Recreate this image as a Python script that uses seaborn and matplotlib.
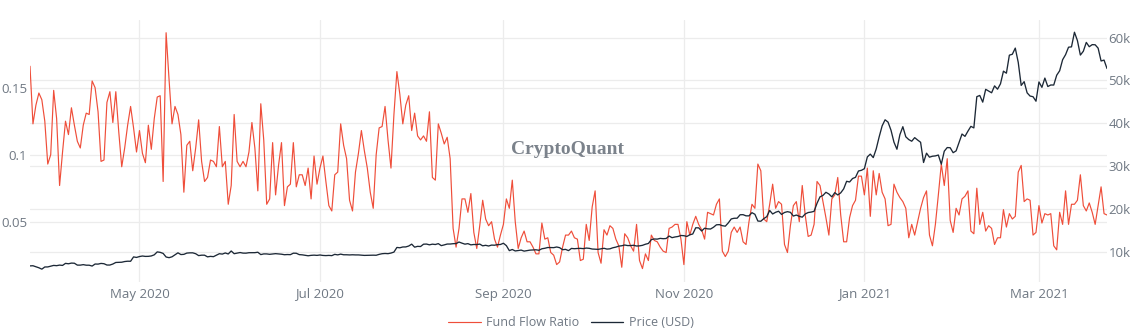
import matplotlib
matplotlib.use("Agg")
import matplotlib.pyplot as plt
import matplotlib.dates as mdates
from matplotlib.ticker import FuncFormatter, FixedLocator
import numpy as np
import pandas as pd
import seaborn as sns

# ---------------- data ----------------
start_date = "2020-03-25"
end_date = "2021-03-24"

fund_flow_ratio = [
    0.166, 0.123, 0.137, 0.146, 0.141, 0.125, 0.093, 0.100, 0.148, 0.127,
    0.077, 0.102, 0.125, 0.115, 0.135, 0.122, 0.110, 0.105, 0.122, 0.131,
    0.130, 0.155, 0.150, 0.132, 0.095, 0.096, 0.139, 0.147, 0.124, 0.147,
    0.117, 0.091, 0.105, 0.122, 0.136, 0.120, 0.102, 0.118, 0.101, 0.094,
    0.122, 0.104, 0.127, 0.143, 0.144, 0.080, 0.191, 0.156, 0.123, 0.136,
    0.130, 0.115, 0.072, 0.107, 0.110, 0.088, 0.105, 0.126, 0.095, 0.080,
    0.083, 0.096, 0.095, 0.091, 0.121, 0.091, 0.095, 0.063, 0.077, 0.130,
    0.095, 0.091, 0.095, 0.091, 0.102, 0.124, 0.105, 0.073, 0.138, 0.111,
    0.063, 0.067, 0.109, 0.070, 0.092, 0.109, 0.062, 0.076, 0.078, 0.109,
    0.076, 0.085, 0.085, 0.077, 0.090, 0.067, 0.099, 0.078, 0.090, 0.099,
    0.080, 0.062, 0.058, 0.085, 0.087, 0.123, 0.107, 0.097, 0.066, 0.058,
    0.087, 0.101, 0.118, 0.103, 0.090, 0.072, 0.060, 0.100, 0.120, 0.121,
    0.136, 0.111, 0.090, 0.130, 0.162, 0.145, 0.123, 0.137, 0.144, 0.118,
    0.131, 0.114, 0.111, 0.114, 0.110, 0.132, 0.083, 0.081, 0.123, 0.116,
    0.108, 0.113, 0.097, 0.045, 0.031, 0.045, 0.067, 0.067, 0.057, 0.071,
    0.042, 0.030, 0.047, 0.066, 0.052, 0.047, 0.050, 0.037, 0.031, 0.040,
    0.048, 0.067, 0.060, 0.081, 0.050, 0.030, 0.038, 0.043, 0.035, 0.035,
    0.031, 0.026, 0.026, 0.049, 0.037, 0.038, 0.027, 0.025, 0.018, 0.020,
    0.031, 0.040, 0.040, 0.043, 0.038, 0.037, 0.021, 0.022, 0.048, 0.036,
    0.061, 0.073, 0.027, 0.019, 0.044, 0.040, 0.047, 0.045, 0.037, 0.032,
    0.016, 0.041, 0.038, 0.032, 0.028, 0.048, 0.021, 0.015, 0.026, 0.021,
    0.040, 0.036, 0.035, 0.031, 0.028, 0.027, 0.045, 0.046, 0.048, 0.048,
    0.037, 0.018, 0.050, 0.040, 0.048, 0.054, 0.048, 0.044, 0.037, 0.057,
    0.056, 0.055, 0.063, 0.067, 0.028, 0.024, 0.028, 0.042, 0.046, 0.042,
    0.046, 0.035, 0.033, 0.050, 0.063, 0.060, 0.093, 0.088, 0.052, 0.050,
    0.063, 0.078, 0.060, 0.065, 0.063, 0.033, 0.027, 0.047, 0.062, 0.065,
    0.050, 0.077, 0.055, 0.039, 0.040, 0.048, 0.080, 0.077, 0.065, 0.053,
    0.040, 0.067, 0.070, 0.083, 0.055, 0.035, 0.035, 0.053, 0.062, 0.066,
    0.084, 0.084, 0.070, 0.090, 0.054, 0.088, 0.070, 0.086, 0.072, 0.067,
    0.047, 0.048, 0.078, 0.072, 0.068, 0.065, 0.060, 0.038, 0.048, 0.040,
    0.050, 0.060, 0.068, 0.073, 0.040, 0.032, 0.048, 0.070, 0.093, 0.077,
    0.097, 0.051, 0.042, 0.060, 0.055, 0.067, 0.069, 0.073, 0.043, 0.041,
    0.075, 0.048, 0.057, 0.043, 0.047, 0.045, 0.033, 0.038, 0.038, 0.059,
    0.046, 0.056, 0.052, 0.054, 0.087, 0.092, 0.065, 0.067, 0.066, 0.040,
    0.042, 0.062, 0.049, 0.056, 0.055, 0.056, 0.032, 0.029, 0.057, 0.048,
    0.073, 0.048, 0.063, 0.063, 0.066, 0.085, 0.062, 0.058, 0.064, 0.057,
    0.048, 0.062, 0.076, 0.056, 0.055,
]

price_2020_mar = [6681, 6716, 6469, 6243, 5922, 6429, 6438]
price_2020_apr = [6606, 6793, 6733, 6868, 6792, 7271, 7176, 7335, 7302, 6866,
                  6859, 6972, 6845, 6843, 6643, 7117, 7096, 7257, 7189, 6881,
                  6880, 7118, 7482, 7505, 7539, 7697, 7773, 7759, 8778, 8658]
price_2020_may = [8864, 8988, 8897, 8912, 9003, 9268, 9951, 9843, 9593, 8756,
                  8601, 8805, 9270, 9733, 9328, 9377, 9671, 9727, 9729, 9523,
                  9082, 9183, 9181, 8791, 8906, 8836, 9181, 9525, 9439, 9700, 9461]
price_2020_jun = [10167, 9529, 9656, 9800, 9665, 9653, 9759, 9775, 9770, 9869,
                  9321, 9480, 9475, 9386, 9450, 9538, 9480, 9411, 9288, 9332,
                  9303, 9648, 9629, 9313, 9264, 9162, 9045, 9143, 9190, 9137]
price_2020_jul = [9228, 9123, 9087, 9132, 9073, 9375, 9252, 9428, 9277, 9278,
                  9240, 9276, 9243, 9243, 9192, 9132, 9151, 9159, 9185, 9164,
                  9374, 9525, 9581, 9536, 9677, 9905, 10990, 10912, 11100, 11111, 11323]
price_2020_aug = [11759, 11053, 11246, 11205, 11747, 11779, 11601, 11754, 11675, 11878,
                  11411, 11584, 11784, 11786, 11866, 11892, 12254, 11991, 11758, 11878,
                  11592, 11681, 11664, 11774, 11366, 11488, 11323, 11542, 11507, 11654, 11680]
price_2020_sep = [11971, 11414, 10245, 10511, 10169, 10280, 10370, 10131, 10242, 10363,
                  10400, 10442, 10323, 10680, 10796, 10974, 10948, 10944, 11094, 10938,
                  10462, 10538, 10246, 10760, 10692, 10750, 10775, 10709, 10844, 10784]
price_2020_oct = [10620, 10570, 10542, 10666, 10793, 10604, 10668, 10916, 11065, 11296,
                  11384, 11555, 11425, 11429, 11495, 11323, 11358, 11483, 11742, 11916,
                  12824, 12965, 12931, 13108, 13031, 13075, 13654, 13271, 13437, 13546, 13781]
price_2020_nov = [13737, 13550, 13950, 14133, 15579, 15565, 14833, 15479, 15332, 15290,
                  15701, 16276, 16317, 16068, 15955, 16716, 17645, 17804, 17817, 18621,
                  18642, 18370, 18364, 19107, 18732, 17150, 17108, 17718, 18177, 19625]
price_2020_dec = [18802, 19201, 19445, 18699, 19154, 19345, 19191, 18321, 18553, 18264,
                  18058, 18803, 19142, 19246, 19417, 21310, 22805, 23137, 23869, 23477,
                  22803, 23783, 23241, 23735, 24664, 26437, 26272, 27084, 27362, 28841, 29002]
price_2021_jan = [29374, 32127, 32782, 31971, 33992, 36824, 39371, 40797, 40254, 38356,
                  35566, 33922, 37316, 39187, 36825, 36178, 35792, 36630, 36069, 35548,
                  30825, 33005, 32067, 32289, 32366, 32569, 30432, 33466, 34316, 34269, 33114]
price_2021_feb = [33538, 35510, 37473, 36926, 38144, 39266, 38903, 46196, 46481, 44919,
                  47910, 47505, 47106, 48718, 47945, 49200, 52149, 51679, 55888, 56100,
                  57540, 54208, 48824, 49706, 47094, 46340, 46188, 45137]
price_2021_mar = [49632, 48378, 50538, 48562, 48928, 48912, 51207, 52247, 54824, 56009,
                  57750, 57829, 61243, 59303, 55907, 56804, 58870, 57859, 58346, 58313,
                  57524, 54530, 54738, 52775]

price_usd = (price_2020_mar + price_2020_apr + price_2020_may + price_2020_jun +
             price_2020_jul + price_2020_aug + price_2020_sep + price_2020_oct +
             price_2020_nov + price_2020_dec + price_2021_jan + price_2021_feb +
             price_2021_mar)

left_ticks = [0.05, 0.1, 0.15]
right_ticks = [10000, 20000, 30000, 40000, 50000, 60000]

dates = pd.date_range(start_date, end_date, freq="D")
df = pd.DataFrame({"date": dates, "ffr": fund_flow_ratio, "price": price_usd})

# ---------------- style ----------------
RED = "#ef4e3a"
DARK = "#1c2836"
GRID = "#ececec"
TXT = "#6f7883"

sns.set_theme(style="white")
plt.rcParams["font.family"] = ["Open Sans", "DejaVu Sans"]

W, H = 1137, 336
fig = plt.figure(figsize=(W / 100, H / 100), dpi=100)
fig.patch.set_facecolor("white")
L, R, T, B = 30, 1107, 20, 282
rect = [L / W, 1 - B / H, (R - L) / W, (B - T) / H]

ax = fig.add_axes(rect)          # left scale, red line
ax_g = ax.twinx()                # right scale grid + labels (bottom layer)
ax_p = ax.twinx()                # right scale, price line (top layer)

ax_g.set_zorder(0)
ax.set_zorder(1)
ax_p.set_zorder(2)
for a in (ax, ax_g, ax_p):
    a.patch.set_visible(False)
    for s in a.spines.values():
        s.set_visible(False)

sns.lineplot(data=df, x="date", y="ffr", ax=ax, color=RED, linewidth=0.85,
             label="Fund Flow Ratio", legend=False)
sns.lineplot(data=df, x="date", y="price", ax=ax_p, color=DARK, linewidth=0.95,
             label="Price (USD)", legend=False)

ax.set_xlim(dates[0], dates[-1])
ax.set_ylim(0.005, 0.2005)
ax_g.set_ylim(2920, 64100)
ax_p.set_ylim(2920, 64100)

# left axis
ax.yaxis.set_major_locator(FixedLocator(left_ticks))
ax.yaxis.set_major_formatter(FuncFormatter(lambda v, p: f"{v:g}"))
ax.grid(True, axis="both", color=GRID, linewidth=0.9)
ax.set_xlabel("")
ax.set_ylabel("")

# right axis
ax_g.yaxis.set_major_locator(FixedLocator(right_ticks))
ax_g.yaxis.set_major_formatter(FuncFormatter(lambda v, p: f"{int(v/1000)}k"))
ax_g.grid(True, axis="y", color=GRID, linewidth=0.9)
ax_g.set_ylabel("")
ax_p.set_yticks([])
ax_p.set_ylabel("")
ax_p.grid(False)

# x axis
ax.xaxis.set_major_locator(mdates.MonthLocator(bymonth=[1, 3, 5, 7, 9, 11]))
ax.xaxis.set_major_formatter(mdates.DateFormatter("%b %Y"))

ax.tick_params(axis="x", length=0, pad=4, labelsize=9.5, colors=TXT)
ax.tick_params(axis="y", length=0, pad=2, labelsize=9.5, colors=TXT)
ax_g.tick_params(axis="y", length=0, pad=1, labelsize=9.5, colors=TXT)

# watermark
fig.text(568 / W, 1 - 150 / H, "CryptoQuant", family="Liberation Serif",
         fontweight="bold", fontsize=14, color="#7b828b", ha="center", va="center")

# legend
handles = ax.get_lines()[:1] + ax_p.get_lines()[:1]
fig.legend(handles, ["Fund Flow Ratio", "Price (USD)"], loc="center",
           bbox_to_anchor=(571 / W, 1 - 323 / H), ncol=2, frameon=False,
           fontsize=9, handlelength=2.6, handletextpad=0.45, columnspacing=0.9,
           labelcolor=TXT)

fig.savefig("out.png", dpi=100)
